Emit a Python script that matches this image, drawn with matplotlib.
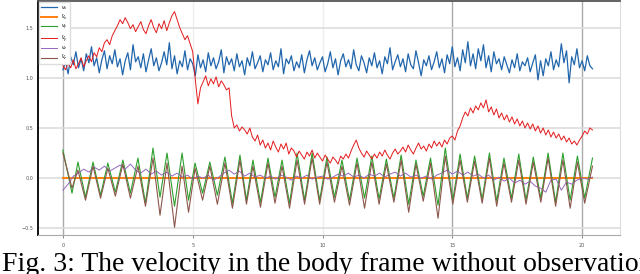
import numpy as np
import matplotlib
matplotlib.use("Agg")
import matplotlib.pyplot as plt

# body-frame velocity, sampled every 0.1 s
vx = [1.08, 1.16, 1.04, 1.21, 1.13, 1.26, 1.10, 1.19, 1.07, 1.24,
      1.15, 1.31, 1.12, 1.20, 1.05, 1.18, 1.27, 1.09, 1.22, 1.14,
      1.28, 1.11, 1.19, 1.03, 1.17, 1.25, 1.08, 1.33, 1.16, 1.21,
      1.10, 1.24, 1.06, 1.18, 1.29, 1.12, 1.20, 1.07, 1.15, 1.26,
      1.13, 1.35, 1.09, 1.22, 1.04, 1.17, 1.11, 1.27, 1.08, 1.19,
      1.14, 1.02, 1.23, 1.10, 1.18, 1.06, 1.25, 1.12, 1.20, 1.09,
      1.16, 1.28, 1.05, 1.21, 1.13, 1.19, 1.07, 1.24, 1.11, 1.17,
      1.03, 1.20, 1.12, 1.26, 1.09, 1.15, 1.22, 1.06, 1.18, 1.13,
      1.25, 1.08, 1.17, 1.11, 1.29, 1.04, 1.19, 1.14, 1.22, 1.07,
      1.16, 1.10, 1.23, 1.05, 1.18, 1.27, 1.12, 1.20, 1.08, 1.15,
      1.21, 1.06, 1.14, 1.26, 1.10, 1.19, 1.03, 1.17, 1.24, 1.11,
      1.18, 1.09, 1.28, 1.13, 1.07, 1.22, 1.15, 1.05, 1.20, 1.12,
      1.25, 1.10, 1.17, 1.04, 1.21, 1.14, 1.30, 1.08, 1.16, 1.23,
      1.11, 1.19, 1.06, 1.24, 1.13, 1.09, 1.27, 1.15, 1.02, 1.18,
      1.12, 1.22, 1.08, 1.16, 1.26, 1.10, 1.19, 1.05, 1.23, 1.14,
      1.31, 1.11, 1.20, 1.07, 1.28, 1.15, 1.36, 1.12, 1.24, 1.09,
      1.29, 1.17, 1.33, 1.10, 1.22, 1.06, 1.26, 1.14, 1.19, 1.08,
      1.21, 1.13, 1.05, 1.18, 1.10, 1.24, 1.07, 1.16, 1.12, 1.20,
      1.06, 1.15, 1.23, 0.98, 1.17, 1.02, 1.19, 1.12, 1.26, 1.08,
      1.18, 1.11, 1.34, 1.15, 1.27, 0.95, 1.21, 1.13, 1.29, 1.10,
      1.17, 1.07, 1.22, 1.12, 1.09]

vx_hat = [1.12, 1.08, 1.15, 1.10, 1.18, 1.09, 1.14, 1.20, 1.11, 1.17,
          1.22, 1.16, 1.25, 1.21, 1.30, 1.26, 1.35, 1.38, 1.33, 1.42,
          1.47, 1.52, 1.58, 1.54, 1.60, 1.55, 1.49, 1.53, 1.46, 1.51,
          1.56, 1.48, 1.44, 1.52, 1.58, 1.50, 1.45, 1.54, 1.49, 1.57,
          1.47, 1.55, 1.62, 1.66, 1.58, 1.50, 1.44, 1.38, 1.42, 1.34,
          1.26, 0.98, 0.74, 0.90, 0.96, 1.02, 0.92, 0.99, 0.94, 1.01,
          0.91, 0.97, 0.93, 0.88, 0.90, 0.62, 0.50, 0.53, 0.47, 0.51,
          0.48, 0.44, 0.50, 0.41, 0.37, 0.43, 0.33, 0.38, 0.30, 0.35,
          0.28, 0.37, 0.31, 0.26, 0.34, 0.29, 0.35, 0.24, 0.30, 0.27,
          0.21, 0.27, 0.23, 0.19, 0.26, 0.22, 0.28, 0.20, 0.25, 0.21,
          0.17, 0.23, 0.19, 0.15, 0.21, 0.18, 0.14, 0.22, 0.19, 0.24,
          0.20, 0.27, 0.33, 0.38, 0.30, 0.25, 0.21, 0.27, 0.23, 0.19,
          0.24, 0.20, 0.26, 0.22, 0.28, 0.23, 0.19, 0.25, 0.29, 0.24,
          0.27, 0.31, 0.26, 0.33, 0.28, 0.24, 0.30, 0.35, 0.29, 0.32,
          0.27, 0.34, 0.30, 0.37, 0.32, 0.36, 0.31, 0.38, 0.34, 0.40,
          0.42, 0.38, 0.47, 0.52, 0.60, 0.66, 0.62, 0.70, 0.65, 0.72,
          0.68, 0.75, 0.70, 0.78, 0.66, 0.71, 0.63, 0.69, 0.60, 0.65,
          0.58, 0.63, 0.56, 0.61, 0.54, 0.59, 0.52, 0.57, 0.50, 0.55,
          0.49, 0.54, 0.47, 0.52, 0.45, 0.50, 0.43, 0.48, 0.41, 0.46,
          0.40, 0.44, 0.38, 0.42, 0.36, 0.40, 0.34, 0.37, 0.33, 0.38,
          0.42, 0.47, 0.44, 0.50, 0.48]

# oscillating components, read at their peaks and troughs
t_osc = [0.00, 0.35, 0.58, 0.87, 1.16, 1.45, 1.73, 2.02, 2.31, 2.60,
         2.89, 3.18, 3.47, 3.74, 4.01, 4.30, 4.59, 4.84, 5.09, 5.38,
         5.66, 5.95, 6.24, 6.53, 6.82, 7.07, 7.32, 7.61, 7.90, 8.17,
         8.44, 8.73, 9.02, 9.31, 9.60, 9.89, 10.17, 10.46, 10.75, 11.04,
         11.33, 11.62, 11.90, 12.18, 12.46, 12.75, 13.03, 13.32, 13.60, 13.88,
         14.16, 14.45, 14.73, 15.02, 15.30, 15.58, 15.86, 16.15, 16.43, 16.71,
         16.99, 17.28, 17.56, 17.84, 18.12, 18.41, 18.69, 18.98, 19.26, 19.54,
         19.82, 20.10, 20.40]

vy = [0.28, -0.15, 0.16, -0.19, 0.16, -0.17, 0.15, -0.14, 0.18, -0.15,
      0.20, -0.25, 0.30, -0.19, 0.25, -0.28, 0.25, -0.22, 0.15, -0.15,
      0.16, -0.17, 0.21, -0.25, 0.23, -0.22, 0.18, -0.24, 0.20, -0.19,
      0.18, -0.25, 0.25, -0.22, 0.25, -0.22, 0.21, -0.19, 0.18, -0.22,
      0.20, -0.20, 0.22, -0.21, 0.19, -0.20, 0.23, -0.26, 0.18, -0.18,
      0.20, -0.27, 0.30, -0.22, 0.24, -0.20, 0.22, -0.21, 0.25, -0.23,
      0.20, -0.20, 0.24, -0.22, 0.21, -0.20, 0.25, -0.24, 0.25, -0.22,
      0.22, -0.20, 0.20]

vy_hat = [0.25, -0.10, 0.08, -0.22, 0.12, -0.20, 0.10, -0.18, 0.14, -0.20,
          0.12, -0.28, 0.20, -0.37, 0.15, -0.49, 0.12, -0.34, 0.10, -0.22,
          0.12, -0.26, 0.15, -0.30, 0.18, -0.26, 0.12, -0.29, 0.15, -0.25,
          0.12, -0.30, 0.18, -0.26, 0.20, -0.26, 0.16, -0.24, 0.12, -0.27,
          0.15, -0.30, 0.16, -0.26, 0.14, -0.24, 0.18, -0.34, 0.14, -0.23,
          0.15, -0.40, 0.22, -0.26, 0.18, -0.24, 0.17, -0.25, 0.20, -0.28,
          0.15, -0.24, 0.18, -0.26, 0.16, -0.24, 0.20, -0.28, 0.18, -0.30,
          0.16, -0.25, 0.12]

# vertical component, sampled every 0.2 s
vz_hat = [-0.12, -0.06, 0.02, 0.05, 0.09, 0.06, 0.11, 0.08, 0.12, 0.07,
          0.10, 0.13, 0.09, 0.14, 0.08, 0.05, 0.09, 0.04, 0.07, 0.03,
          0.06, 0.02, 0.05, 0.01, 0.03, -0.01, 0.02, 0.00, 0.03, -0.02,
          0.01, 0.05, 0.08, 0.04, 0.07, 0.02, 0.05, 0.01, 0.03, 0.00,
          0.02, -0.01, 0.03, 0.01, -0.02, 0.02, 0.00, 0.03, -0.01, 0.01,
          0.02, -0.01, 0.01, 0.04, 0.02, 0.05, 0.01, 0.03, 0.00, 0.04,
          0.02, 0.05, 0.01, 0.04, 0.06, 0.02, 0.05, 0.01, 0.03, 0.00,
          0.02, -0.01, 0.03, 0.05, 0.08, 0.04, 0.07, 0.03, 0.06, 0.02,
          0.04, 0.00, 0.03, -0.02, 0.01, -0.03, 0.00, -0.05, -0.02, -0.06,
          -0.03, -0.08, -0.10, -0.14, -0.02, -0.01, -0.12, -0.04, -0.06, -0.02,
          0.00, -0.01, 0.01]

t_vz = [0.0, 20.4]
vz = [0.0, 0.0]

labels = [r'$v_x$', r'$\hat{v}_x$', r'$v_y$', r'$\hat{v}_y$', r'$v_z$', r'$\hat{v}_z$']
caption = 'Fig. 3: The velocity in the body frame without observation'

t_fast = np.arange(len(vx)) * 0.1
t_slow = np.arange(len(vz_hat)) * 0.2

fig = plt.figure(figsize=(6.4, 2.74), dpi=100)
ax = fig.add_axes([38 / 640, 1 - 235 / 274, 582 / 640, 234.5 / 274])

l1, = ax.plot(t_fast, vx, color='#2166ac', lw=0.9)
l2, = ax.plot(t_vz, vz, color='#ff7f0e', lw=1.4)
l3, = ax.plot(t_osc, vy, color='#2ca02c', lw=0.8, solid_joinstyle='round')
l4, = ax.plot(t_fast, vx_hat, color='#e31a1c', lw=0.7)
l5, = ax.plot(t_slow, vz_hat, color='#9467bd', lw=0.7)
l6, = ax.plot(t_osc, vy_hat, color='#8c564b', lw=0.8, solid_joinstyle='round')

ax.set_xlim(-0.96, 21.46)
ax.set_ylim(-0.567, 1.771)
ax.set_xticks([0, 5, 10, 15, 20])
ax.set_yticks([-0.5, 0.0, 0.5, 1.0, 1.5])
ax.tick_params(labelsize=3.5, colors='#555555', length=2, width=0.5)
ax.tick_params(axis='y', length=0)

ax.grid(axis='y', color='#dddddd', lw=1.2)
for xv in [0, 5, 10, 15, 20]:
    c = '#eeeeee' if xv in (5, 10) else '#aaaaaa'
    ax.axvline(xv, color=c, lw=1.0, zorder=0)
ax.set_axisbelow(True)

ax.spines['left'].set_color('black')
ax.spines['left'].set_linewidth(1.3)
ax.spines['top'].set_color('#555555')
ax.spines['top'].set_linewidth(1.3)
ax.spines['bottom'].set_color('#aaaaaa')
ax.spines['right'].set_color('#dddddd')

ax.legend([l1, l2, l3, l4, l5, l6], labels, loc='upper left', fontsize=3.5,
          handlelength=3.3, labelspacing=0.15, borderaxespad=0.3,
          frameon=True, fancybox=False, edgecolor='#dddddd', framealpha=1)

fig.text(0.003, 0.011, caption, family='Liberation Serif', fontsize=20,
         ha='left', va='baseline')

fig.savefig('out.png', dpi=100)
